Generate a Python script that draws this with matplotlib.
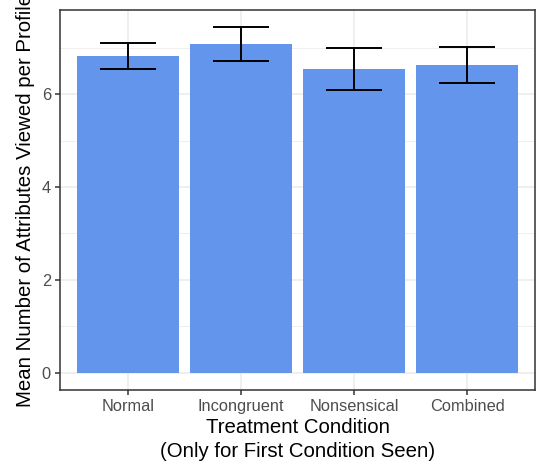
import matplotlib
matplotlib.use("Agg")
import matplotlib.pyplot as plt
import numpy as np

plt.rcParams['font.family'] = ['Liberation Sans', 'DejaVu Sans']

# данные
conditions = ["Normal", "Incongruent", "Nonsensical", "Combined"]
means = [6.82, 7.07, 6.54, 6.62]
err_low = [6.53, 6.72, 6.08, 6.23]
err_high = [7.09, 7.44, 7.00, 7.01]

fig = plt.figure(figsize=(5.38, 4.68), dpi=100)
ax = fig.add_axes([60 / 538, 78 / 468, 475 / 538, 380 / 468])

x = np.arange(1, len(conditions) + 1)
ax.bar(x, means, width=0.9, color='#6495ED', zorder=2)

m = np.array(means)
yerr = [m - np.array(err_low), np.array(err_high) - m]
ax.errorbar(x, means, yerr=yerr, fmt='none', ecolor='black', elinewidth=1.4,
            capsize=20.4, capthick=1.4, zorder=3)

ax.set_xlim(0.4, 4.6)
ax.set_ylim(-0.372, 7.81)
ax.set_xticks(x)
ax.set_xticklabels(conditions)
ax.set_yticks([0, 2, 4, 6])
ax.set_yticks([1, 3, 5, 7], minor=True)
ax.set_xticks([], minor=True)

ax.grid(which='major', color='#EBEBEB', linewidth=1.1, zorder=0)
ax.grid(which='minor', axis='y', color='#EBEBEB', linewidth=0.55, zorder=0)
ax.set_axisbelow(True)

for s in ax.spines.values():
    s.set_color('#333333')
    s.set_linewidth(1.1)

ax.tick_params(axis='both', which='major', length=3.5, width=1.1, color='#333333',
               labelsize=11.8, labelcolor='#4D4D4D', pad=3)
ax.tick_params(axis='y', which='minor', length=0)

ax.set_xlabel("Treatment Condition\n(Only for First Condition Seen)", fontsize=14.7,
              labelpad=3, linespacing=1.35)
ax.set_ylabel("Mean Number of Attributes Viewed per Profile", fontsize=14.7, labelpad=5)

fig.savefig("out.png", dpi=100)
